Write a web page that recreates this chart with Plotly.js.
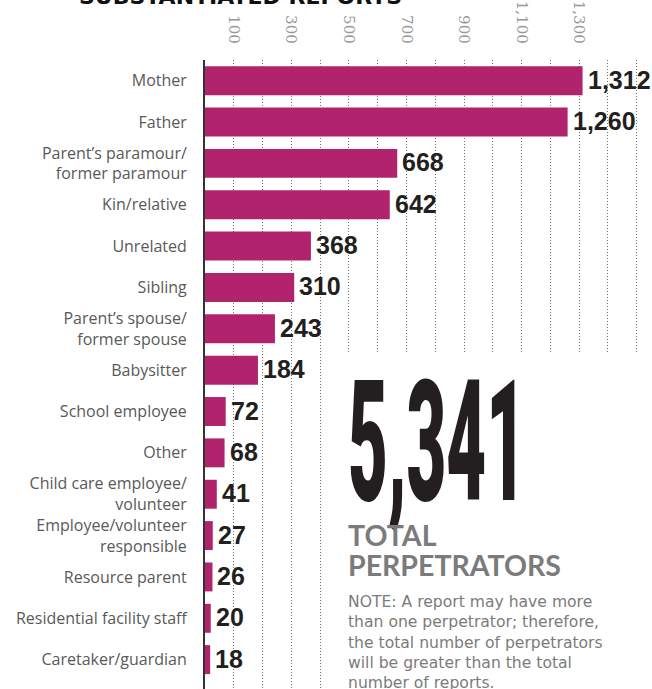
<!DOCTYPE html>
<html>
<head>
<meta charset="utf-8">
<script src="https://cdn.plot.ly/plotly-3.0.1.min.js"></script>
<style>
  html, body { margin: 0; padding: 0; background: #fff; }
  #chart { width: 652px; height: 689px; }
</style>
</head>
<body>
<div id="chart"></div>
<script>
const categories = [
  'Mother',
  'Father',
  'Parent’s paramour/<br>former paramour',
  'Kin/relative',
  'Unrelated',
  'Sibling',
  'Parent’s spouse/<br>former spouse',
  'Babysitter',
  'School employee',
  'Other',
  'Child care employee/<br>volunteer',
  'Employee/volunteer<br>responsible',
  'Resource parent',
  'Residential facility staff',
  'Caretaker/guardian'
];
const perpetrators = [1312, 1260, 668, 642, 368, 310, 243, 184, 72, 68, 41, 27, 26, 20, 18];
const axisTickValues = [100, 300, 500, 700, 900, 1100, 1300];
const axisTickText = ['100', '300', '500', '700', '900', '1,100', '1,300'];
const gridStep = 100;
const chartTitle = 'SUBSTANTIATED REPORTS';
const totalPerpetrators = '5,341';
const totalLabel = ['TOTAL', 'PERPETRATORS'];
const noteLines = [
  'NOTE: A report may have more',
  'than one perpetrator; therefore,',
  'the total number of perpetrators',
  'will be greater than the total',
  'number of reports.'
];

const W = 652, H = 689;
const M = {l: 205, r: 0, t: 60, b: 0};
const plotW = W - M.l - M.r, plotH = H - M.t - M.b;
const pxPerUnit = 0.2878;
const xMax = plotW / pxPerUnit;
const px2paperX = px => (px - M.l) / plotW;
const px2paperY = py => (H - M.b - py) / plotH;
const yTop = -0.5, yBottom = 14.71;
const px2catY = py => yTop + (py - M.t) * (yBottom - yTop) / plotH;
const px2dataX = px => (px - M.l) / pxPerUnit;

const barColor = '#b1246d';
const fmt = v => v.toLocaleString('en-US');

const valueAnnotations = categories.map((c, i) => ({
  x: perpetrators[i], y: c, xref: 'x', yref: 'y',
  text: fmt(perpetrators[i]),
  showarrow: false, xanchor: 'left', yanchor: 'middle', xshift: 3, yshift: 1,
  font: {family: 'Liberation Sans', size: 25, weight: 700, color: '#231f20'}
}));

const extraAnnotations = [
  {
    xref: 'paper', yref: 'paper', x: px2paperX(77), y: px2paperY(11),
    xanchor: 'left', yanchor: 'bottom', showarrow: false,
    text: chartTitle,
    font: {family: 'DejaVu Sans', size: 22, weight: 700, color: '#111'}
  },
  {
    xref: 'paper', yref: 'paper', x: px2paperX(346), y: px2paperY(442),
    xanchor: 'left', yanchor: 'middle', showarrow: false,
    text: totalPerpetrators,
    font: {family: 'Roboto', size: 169, weight: 900, color: '#231f20'}
  },
  {
    xref: 'paper', yref: 'paper', x: px2paperX(346), y: px2paperY(535),
    xanchor: 'left', yanchor: 'middle', showarrow: false,
    text: totalLabel[0],
    font: {family: 'Lato', size: 28.5, weight: 700, color: '#7b7b7b'}
  },
  {
    xref: 'paper', yref: 'paper', x: px2paperX(346), y: px2paperY(565),
    xanchor: 'left', yanchor: 'middle', showarrow: false,
    text: totalLabel[1],
    font: {family: 'Lato', size: 28.5, weight: 700, color: '#7b7b7b'}
  },
  {
    xref: 'paper', yref: 'paper', x: px2paperX(346), y: px2paperY(591),
    xanchor: 'left', yanchor: 'top', align: 'left', showarrow: false,
    text: noteLines.join('<br>'),
    font: {family: 'DejaVu Sans', size: 15.6, color: '#7b7b7b'}
  }
];

const trace = {
  type: 'bar',
  orientation: 'h',
  x: perpetrators,
  y: categories,
  width: 0.7,
  marker: {color: barColor, line: {width: 0}},
  hoverinfo: 'skip'
};

const gridColor = '#6f6f6f';

const layout = {
  width: W, height: H,
  margin: M,
  paper_bgcolor: '#fff', plot_bgcolor: '#fff',
  showlegend: false,
  bargap: 0.3,
  xaxis: {
    side: 'top',
    range: [0, xMax],
    tickmode: 'array',
    tickvals: axisTickValues,
    ticktext: axisTickText,
    tickangle: 90,
    ticks: '',
    ticklabelstandoff: 13,
    tickfont: {family: 'DejaVu Serif', size: 15, color: '#979797'},
    showgrid: true,
    gridcolor: gridColor,
    gridwidth: 1,
    griddash: '1px,2px',
    minor: {tick0: 0, dtick: gridStep, showgrid: true, gridcolor: gridColor, gridwidth: 1, griddash: '1px,2px', ticks: ''},
    zeroline: false,
    showline: false,
    fixedrange: true
  },
  yaxis: {
    type: 'category',
    range: [yBottom, yTop],
    showgrid: false,
    zeroline: false,
    showline: true,
    linecolor: '#333',
    linewidth: 2,
    ticks: '',
    ticklabelstandoff: 13,
    tickfont: {family: 'Open Sans', size: 16, color: '#595959'},
    fixedrange: true
  },
  shapes: [
    {type: 'rect', xref: 'x', yref: 'y', layer: 'between',
     x0: px2dataX(335), x1: xMax + 50, y0: yBottom + 1, y1: px2catY(353),
     fillcolor: '#fff', line: {width: 0}}
  ],
  annotations: valueAnnotations.concat(extraAnnotations)
};

function squeezeBigNumber() {
  document.querySelectorAll('#chart .annotation-text').forEach(n => {
    if (n.textContent === totalPerpetrators) {
      const bb = n.getBBox();
      const s = 178 / bb.width;
      n.style.transformBox = 'fill-box';
      n.style.transformOrigin = 'left center';
      n.style.transform = 'scaleX(' + s + ')';
    }
  });
}

Plotly.newPlot('chart', [trace], layout, {displayModeBar: false, staticPlot: true})
  .then(squeezeBigNumber, squeezeBigNumber);
</script>
</body>
</html>
